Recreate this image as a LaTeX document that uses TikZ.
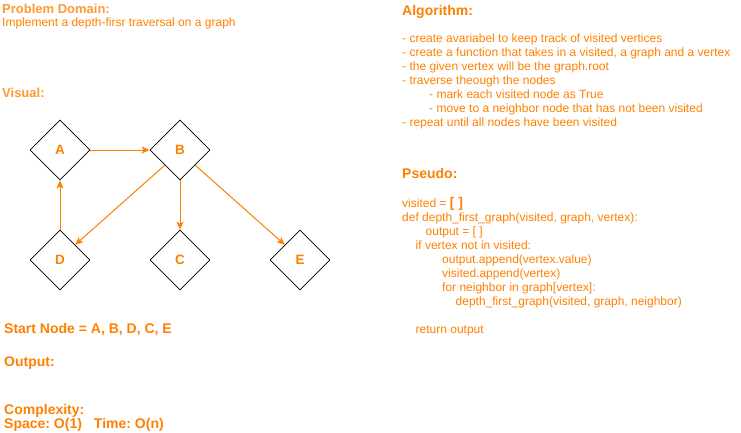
\documentclass[tikz,border=0pt]{standalone}
\usepackage{fontspec}
\setmainfont{Liberation Sans}
\usetikzlibrary{arrows.meta,shapes.geometric,calc}
\definecolor{org}{HTML}{FF8000}
\definecolor{orglt}{HTML}{FF9933}
\frenchspacing
\begin{document}
\begin{tikzpicture}[x=1pt,y=-1pt,
  txt/.style={anchor=base west,inner sep=0pt,text=org,font=\fontsize{12}{14}\selectfont},
  head/.style={anchor=base west,inner sep=0pt,text=org,font=\fontsize{14}{16}\selectfont\bfseries},
  headsm/.style={anchor=base west,inner sep=0pt,text=orglt,font=\fontsize{13}{15}\selectfont\bfseries},
  vert/.style={diamond,draw=black,line width=0.8pt,minimum width=60pt,minimum height=60pt,inner sep=0pt,
    text=org,font=\fontsize{13.5}{15}\selectfont\bfseries},
  edge/.style={draw=org,line width=1pt,-{Stealth[length=8pt,width=7pt,inset=2pt]}}]
\useasboundingbox (0,0) rectangle (741,432);
% left headings
\node[headsm] (pd) at (2,13.5) {Problem Domain:};
\node[txt] (pdt) at (2,26) {Implement a depth-firsr traversal on a graph};
\node[headsm] (vis) at (2,97.5) {Visual:};
% graph
\node[vert] (A) at (60,150) {A};
\node[vert] (B) at (180,150) {B};
\node[vert] (D) at (60,260) {D};
\node[vert] (C) at (180,260) {C};
\node[vert] (E) at (300,260) {E};
\coordinate (Bsw) at ($(B.west)!0.5!(B.south)$);
\coordinate (Bse) at ($(B.east)!0.5!(B.south)$);
\coordinate (Dne) at ($(D.north)!0.5!(D.east)$);
\coordinate (Enw) at ($(E.north)!0.5!(E.west)$);
\draw[edge] (A.east) -- (B.west);
\draw[edge] (D.north) -- (A.south);
\draw[edge] (B.south) -- (C.north);
\draw[edge] (Bsw) -- (Dne);
\draw[edge] (Bse) -- (Enw);
% bottom left
\node[head] (sn) at (4,333) {Start Node = A, B, D, C, E};
\node[head] (out) at (4,366) {Output:};
\node[head] (cx) at (4,414) {Complexity:};
\node[head] (sp) at (4,428.5) {Space: O(1)\hspace{12pt}Time: O(n)};
% algorithm
\node[head] (alg) at (402,15.5) {Algorithm:};
\node[txt] (a1) at (402,42) {- create avariabel to keep track of visited vertices};
\node[txt] (a2) at (402,56) {- create a function that takes in a visited, a graph and a vertex};
\node[txt] (a3) at (402,70) {- the given vertex will be the graph.root};
\node[txt] (a4) at (402,84) {- traverse theough the nodes};
\node[txt] (a5) at (429,98) {- mark each visited node as True};
\node[txt] (a6) at (429,112) {- move to a neighbor node that has not been visited};
\node[txt] (a7) at (402,126) {- repeat until all nodes have been visited};
% pseudo
\node[head] (ps) at (402,178.5) {Pseudo:};
\node[txt] (p1) at (402,207.5) {visited = {\fontsize{14}{16}\selectfont\bfseries [ ]}};
\node[txt] (p2) at (402,221.5) {def depth\_first\_graph(visited, graph, vertex):};
\node[txt] (p3) at (425.5,235.5) {output = [ ]};
\node[txt] (p4) at (415.5,249.5) {if vertex not in visited:};
\node[txt] (p5) at (442,263.5) {output.append(vertex.value)};
\node[txt] (p6) at (442,277.5) {visited.append(vertex)};
\node[txt] (p7) at (442,291.5) {for neighbor in graph[vertex]:};
\node[txt] (p8) at (455.5,305.5) {depth\_first\_graph(visited, graph, neighbor)};
\node[txt] (p9) at (415.5,333.5) {return output};
\end{tikzpicture}
\end{document}
